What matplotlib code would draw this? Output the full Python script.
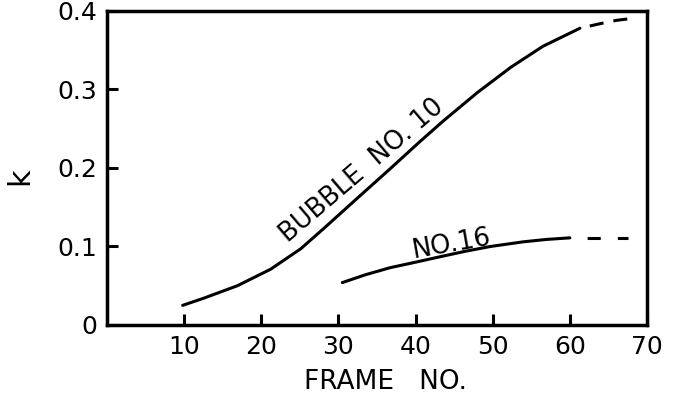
import numpy as np
import matplotlib.pyplot as plt

# values
b10_x = [9.8, 12.5, 16.9, 21.2, 25.1, 28.1, 32.5, 36.7, 40.6, 43.6, 48.0, 52.3, 56.5, 61.3]
b10_k = [0.025, 0.034, 0.050, 0.071, 0.097, 0.123, 0.162, 0.199, 0.234, 0.260, 0.296, 0.328, 0.355, 0.378]
b10_ext_x = [61.3, 64.0, 66.0, 67.6]
b10_ext_k = [0.378, 0.384, 0.388, 0.390]

n16_x = [30.5, 33.5, 36.7, 40.0, 43.2, 46.5, 49.7, 54.0, 57.0, 60.0]
n16_k = [0.054, 0.064, 0.073, 0.080, 0.087, 0.094, 0.100, 0.106, 0.109, 0.111]
n16_ext_x = [60.0, 67.5]
n16_ext_k = [0.111, 0.111]

x_ticks = [10, 20, 30, 40, 50, 60, 70]
y_ticks = [0, 0.1, 0.2, 0.3, 0.4]
y_labels = ['0', '0.1', '0.2', '0.3', '0.4']

plt.rcParams['font.family'] = 'DejaVu Sans'

fig = plt.figure(figsize=(6.74, 3.99), dpi=100)
ax = fig.add_axes([0.1588, 0.1855, 0.8012, 0.787])

lw = 2.2
ax.plot(b10_x, b10_k, color='black', lw=lw, solid_capstyle='round')
ax.plot(b10_ext_x, b10_ext_k, color='black', lw=lw,
        linestyle=(4.6, (4.6, 3.3)))
ax.plot(n16_x, n16_k, color='black', lw=lw, solid_capstyle='round')
ax.plot(n16_ext_x, n16_ext_k, color='black', lw=lw,
        linestyle=(4.3, (4.3, 5.6)))

# curve labels
ax.text(33.6, 0.190, 'BUBBLE  NO. 10', rotation=40.5, ha='center', va='baseline',
        fontsize=18.5, rotation_mode='anchor')
ax.text(44.8, 0.094, 'NO.16', rotation=10, ha='center', va='baseline',
        fontsize=18.5, rotation_mode='anchor')

ax.set_xlim(0, 70)
ax.set_ylim(0, 0.4)
ax.set_xticks(x_ticks)
ax.set_yticks(y_ticks)
ax.set_yticklabels(y_labels)
ax.tick_params(direction='in', length=8, width=2.2, labelsize=18, pad=7)
ax.tick_params(axis='x', pad=7)

for s in ax.spines.values():
    s.set_linewidth(2.5)

ax.set_xlabel('FRAME   NO.', fontsize=19)
ax.xaxis.set_label_coords(0.515, -0.14)
ax.set_ylabel('k', fontsize=22, va='center')
ax.yaxis.set_label_coords(-0.161, 0.474)

fig.savefig('out.png', dpi=100)
